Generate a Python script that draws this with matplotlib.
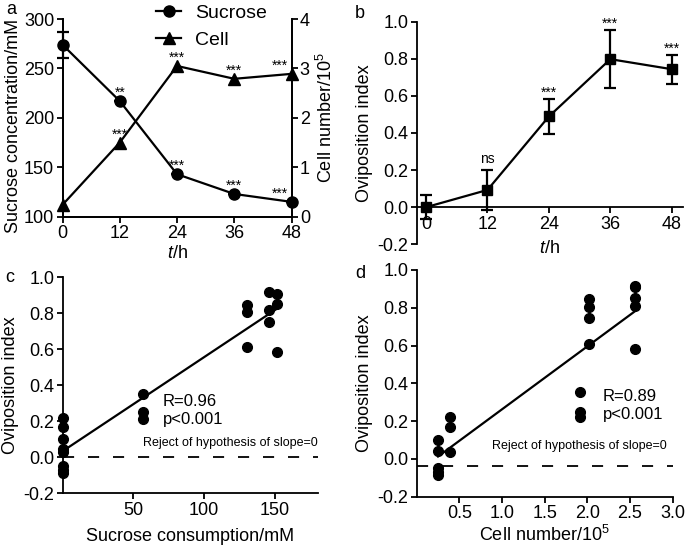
import matplotlib
matplotlib.use('Agg')
import matplotlib.pyplot as plt
import numpy as np

plt.rcParams['font.family'] = ['Liberation Sans', 'DejaVu Sans']
plt.rcParams['mathtext.fontset'] = 'custom'
plt.rcParams['mathtext.rm'] = 'Liberation Sans'
plt.rcParams['mathtext.it'] = 'Liberation Sans:italic'
plt.rcParams['mathtext.bf'] = 'Liberation Sans:bold'
plt.rcParams['lines.scale_dashes'] = False

# ---------------- data ----------------
hours = [0, 12, 24, 36, 48]
sucrose = [274, 217, 143, 123, 115]
sucrose_err = [13, 0, 0, 0, 0]
cells = [0.24, 1.5, 3.05, 2.79, 2.89]
sucrose_sig = ['', '**', '***', '***', '***']
cell_sig = ['', '***', '***', '***', '***']

ovi_mean = [0.0, 0.093, 0.489, 0.798, 0.744]
ovi_err = [0.065, 0.11, 0.093, 0.158, 0.079]
ovi_sig = ['', 'ns', '***', '***', '***']

c_x = [0, 0, 0, 0, 0, 0, 0, 0,
       57, 57, 57,
       130, 130, 130,
       146, 146, 146,
       151.5, 151.5, 151.5]
c_y = [0.22, 0.167, 0.10, 0.044, 0.03, -0.05, -0.07, -0.085,
       0.352, 0.252, 0.215,
       0.848, 0.809, 0.611,
       0.917, 0.817, 0.75,
       0.909, 0.854, 0.583]

d_x = [0.25, 0.25, 0.25, 0.25, 0.25,
       0.39, 0.39, 0.39,
       1.91, 1.91, 1.91,
       2.02, 2.02, 2.02, 2.02,
       2.56, 2.56, 2.56, 2.56, 2.56]
d_y = [0.10, 0.044, -0.05, -0.07, -0.083,
       0.22, 0.167, 0.035,
       0.352, 0.25, 0.22,
       0.844, 0.806, 0.748, 0.61,
       0.915, 0.909, 0.85, 0.81, 0.584]

c_stats = ['R=0.96', 'p<0.001']
d_stats = ['R=0.89', 'p<0.001']
reject_text = 'Reject of hypothesis of slope=0'
c_baseline = 0.0
d_baseline = -0.04

# ---------------- figure ----------------
W, H = 685, 548
fig = plt.figure(figsize=(W / 100, H / 100), dpi=100)


def axes_px(l, r, t, b):
    return fig.add_axes([l / W, 1 - b / H, (r - l) / W, (b - t) / H])


LW = 1.3
TICK = dict(direction='out', length=4, width=LW, labelsize=13, pad=2, colors='black')
LABEL_FS = 13


def style(ax):
    for s in ax.spines.values():
        s.set_linewidth(LW)
    ax.spines['top'].set_visible(False)
    ax.spines['right'].set_visible(False)
    ax.tick_params(**TICK)


# ---------------- panel a ----------------
axa = axes_px(62.5, 291.5, 19, 216.7)
style(axa)
axa.spines['right'].set_visible(True)
axa.set_xlim(0, 48)
axa.set_ylim(100, 300)
axa.set_xticks(hours)
axa.set_yticks([100, 150, 200, 250, 300])
l1, = axa.plot(hours, sucrose, '-o', color='black', lw=1.6, ms=8, clip_on=False, zorder=3)
axa.errorbar(hours, sucrose, yerr=sucrose_err, fmt='none', ecolor='black',
             elinewidth=1.6, capsize=4, capthick=1.6, clip_on=False)
axa.set_ylabel('Sucrose concentration/mM', fontsize=LABEL_FS)
axa.yaxis.set_label_coords(-(62.5 - 22) / 229, 1 - (126 - 19) / 197.7, transform=axa.transAxes)
axa.set_xlabel('$t$/h', fontsize=LABEL_FS, labelpad=2)

axa2 = axa.twinx()
axa2.set_ylim(0, 4)
axa2.set_yticks([0, 1, 2, 3, 4])
for s in axa2.spines.values():
    s.set_linewidth(LW)
axa2.spines['top'].set_visible(False)
axa2.tick_params(**TICK)
l2, = axa2.plot(hours, cells, '-^', color='black', lw=1.6, ms=8, clip_on=False, zorder=3)
axa2.set_ylabel('Cell number/10$^5$', fontsize=LABEL_FS, labelpad=4)

for i, (x, y, s) in enumerate(zip(hours, sucrose, sucrose_sig)):
    if s:
        dx = -8 if i == len(hours) - 1 else 0
        axa.annotate(s, (x, y), xytext=(dx, 3), textcoords='offset points',
                     ha='center', va='baseline', fontsize=10)
for i, (x, y, s) in enumerate(zip(hours, cells, cell_sig)):
    if s:
        dx = -8 if i == len(hours) - 1 else 0
        axa2.annotate(s, (x, y), xytext=(dx, 3), textcoords='offset points',
                      ha='center', va='baseline', fontsize=10)

axa2.legend([l1, l2], ['Sucrose', 'Cell'], loc='upper left',
            bbox_to_anchor=(156 / W, 1 - 4 / H), bbox_transform=fig.transFigure,
            frameon=False, fontsize=14, handlelength=1.3, handletextpad=0.7,
            labelspacing=0.5, borderpad=0, borderaxespad=0)

# ---------------- panel b ----------------
axb = axes_px(416.7, 683, 21.7, 244.3)
style(axb)
axb.set_xlim(-1.82, 50.2)
axb.set_ylim(-0.2, 1.0)
axb.spines['bottom'].set_position(('data', 0))
axb.set_xticks(hours)
axb.set_yticks([-0.2, 0.0, 0.2, 0.4, 0.6, 0.8, 1.0])
axb.set_yticklabels(['-0.2', '0.0', '0.2', '0.4', '0.6', '0.8', '1.0'])
axb.errorbar(hours, ovi_mean, yerr=ovi_err, fmt='-s', color='black', lw=1.6, ms=7,
             elinewidth=1.6, capsize=4, capthick=1.6, clip_on=False, zorder=3)
for x, y, e, s in zip(hours, ovi_mean, ovi_err, ovi_sig):
    if s:
        off = 5 if s == 'ns' else 1.5
        axb.annotate(s, (x, y + e), xytext=(0, off), textcoords='offset points',
                     ha='center', va='baseline', fontsize=10)
axb.set_ylabel('Oviposition index', fontsize=LABEL_FS, labelpad=3)
axb.set_xlabel('$t$/h', fontsize=LABEL_FS)
axb.xaxis.set_label_coords(0.5, 0.02, transform=axb.transAxes)


# ---------------- panels c and d ----------------
def scatter_panel(ax, xs, ys, baseline, stats, txt_xy, rej_xy):
    style(ax)
    ax.set_ylim(-0.2, 1.0)
    ax.set_yticks([-0.2, 0.0, 0.2, 0.4, 0.6, 0.8, 1.0])
    ax.set_yticklabels(['-0.2', '0.0', '0.2', '0.4', '0.6', '0.8', '1.0'])
    ax.plot(xs, ys, 'o', color='black', ms=7, clip_on=False, zorder=3)
    k, b = np.polyfit(xs, ys, 1)
    xx = np.array([min(xs), max(xs)])
    ax.plot(xx, k * xx + b, color='black', lw=1.6, zorder=2)
    ax.axhline(baseline, color='black', lw=1.3, dashes=(8, 10))
    ax.text(txt_xy[0], txt_xy[1], stats[0] + '\n' + stats[1], transform=ax.transAxes,
            fontsize=12, ha='left', va='top', linespacing=1.25)
    ax.text(rej_xy[0], rej_xy[1], reject_text, transform=ax.transAxes,
            fontsize=9, ha='left', va='center')
    ax.set_ylabel('Oviposition index', fontsize=LABEL_FS, labelpad=3)


axc = axes_px(62.5, 318.3, 277.3, 493.3)
axc.set_xlim(0, 180.6)
axc.set_xticks([50, 100, 150])
scatter_panel(axc, c_x, c_y, c_baseline, c_stats,
              ((163 - 62.5) / 255.8, 1 - (394 - 277.3) / 216), ((143 - 62.5) / 255.8, 1 - (443 - 277.3) / 216))
axc.set_xlabel('Sucrose consumption/mM', fontsize=LABEL_FS, labelpad=7)

axd = axes_px(416.7, 672.7, 270, 496.7)
axd.set_xlim(0, 3.0)
axd.set_xticks([0.5, 1.0, 1.5, 2.0, 2.5, 3.0])
scatter_panel(axd, d_x, d_y, d_baseline, d_stats,
              ((603 - 416.7) / 256, 1 - (389 - 270) / 226.7), ((492 - 416.7) / 256, 1 - (446 - 270) / 226.7))
axd.set_xlabel('Cell number/10$^5$', fontsize=LABEL_FS, labelpad=2)

# panel letters
for lab, (x, y) in zip(['a', 'b', 'c', 'd'], [(11, 10), (360, 13), (10, 277), (360, 274)]):
    fig.text(x / W, 1 - y / H, lab, fontsize=13, ha='center', va='center')

fig.savefig('out.png', dpi=100)
